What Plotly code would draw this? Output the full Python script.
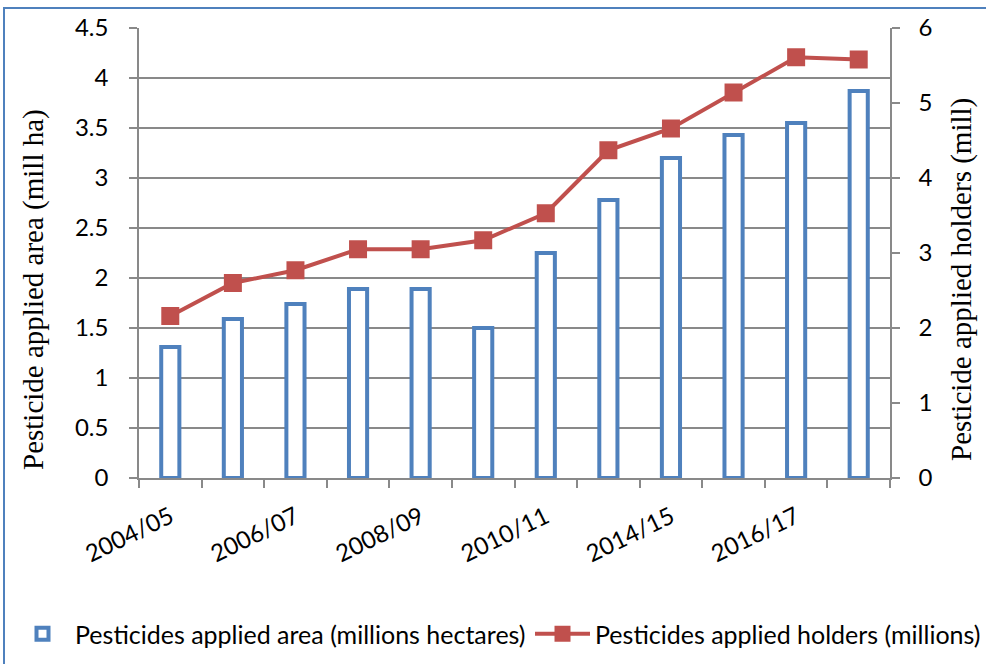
import plotly.graph_objects as go

categories = ["2004/05", "2005/06", "2006/07", "2007/08", "2008/09", "2009/10",
              "2010/11", "2013/14", "2014/15", "2015/16", "2016/17", "2017/18"]
tick_labels = ["2004/05", "", "2006/07", "", "2008/09", "",
               "2010/11", "", "2014/15", "", "2016/17", ""]
area_mill_ha = [1.31, 1.59, 1.74, 1.89, 1.89, 1.50, 2.25, 2.78, 3.20, 3.43, 3.55, 3.87]
holders_mill = [2.16, 2.60, 2.77, 3.05, 3.05, 3.17, 3.53, 4.37, 4.66, 5.14, 5.61, 5.58]

BLUE = "#4F81BD"
RED = "#C0504D"
GRID = "#898989"
SANS = "Lato, 'Open Sans', sans-serif"
SERIF = "'Liberation Serif', 'Times New Roman', serif"

# plot area in pixels: x 139..890, y 28..478
L, R, T, B = 139, 890, 28, 478
def px(x):
    return (x - L) / (R - L)
def py(y):
    return (B - y) / (B - T)

fig = go.Figure()
fig.add_trace(go.Bar(
    x=categories, y=area_mill_ha, name="Pesticides applied area (millions hectares)",
    width=0.29, marker=dict(color="white", line=dict(color=BLUE, width=4)),
    yaxis="y", legend="legend"))
fig.add_trace(go.Scatter(
    x=categories, y=holders_mill, name="Pesticides applied holders (millions)",
    mode="lines+markers", line=dict(color=RED, width=4),
    marker=dict(symbol="square", size=18, color=RED), yaxis="y2", legend="legend2"))

legend_common = dict(orientation="h", yanchor="middle", y=py(634), xanchor="left",
                     font=dict(family=SANS, size=25, color="black"),
                     itemwidth=55, tracegroupgap=0, bgcolor="rgba(0,0,0,0)")

fig.update_layout(
    width=986, height=664,
    margin=dict(l=L, r=986 - R, t=T, b=664 - B, autoexpand=False),
    paper_bgcolor="white", plot_bgcolor="white",
    font=dict(family=SANS, size=20, color="black"),
    showlegend=True,
    legend=dict(x=px(10), **legend_common),
    legend2=dict(x=px(530), **legend_common),
    xaxis=dict(type="category", tickvals=categories, ticktext=tick_labels,
               tickangle=-26, tickson="boundaries", ticks="outside", ticklen=8,
               tickcolor=GRID, tickwidth=1.5, showline=True, linecolor=GRID, linewidth=1.5,
               ticklabelstandoff=14,
               showgrid=False, tickfont=dict(family=SANS, size=24), range=[-0.5, 11.5]),
    yaxis=dict(range=[0, 4.5], dtick=0.5, tickformat="~g", showgrid=True, gridcolor=GRID,
               gridwidth=1.5, showline=True, linecolor=GRID, linewidth=1.5,
               ticks="outside", ticklen=8, tickcolor=GRID, tickwidth=1.5,
               ticklabelstandoff=16, zeroline=False,
               tickfont=dict(family=SANS, size=24)),
    yaxis2=dict(range=[0, 6], dtick=1, overlaying="y", side="right", showgrid=False,
                showline=True, linecolor=GRID, linewidth=1.5,
                ticks="outside", ticklen=8, tickcolor=GRID, tickwidth=1.5,
                ticklabelstandoff=14, zeroline=False,
                tickfont=dict(family=SANS, size=24)),
    annotations=[
        dict(text="Pesticide applied area (mill ha)", textangle=-90, showarrow=False,
             xref="paper", yref="paper", x=px(33), y=py(290), xanchor="center",
             yanchor="middle", font=dict(family=SERIF, size=29, color="black")),
        dict(text="Pesticide applied holders (mill)", textangle=-90, showarrow=False,
             xref="paper", yref="paper", x=px(961), y=py(280), xanchor="center",
             yanchor="middle", font=dict(family=SERIF, size=29, color="black")),
    ],
    shapes=[dict(type="rect", xref="paper", yref="paper",
                 x0=px(4), x1=px(995), y0=py(675), y1=py(8),
                 line=dict(color=BLUE, width=2), fillcolor="rgba(0,0,0,0)", layer="below")],
)

fig.write_html("out.html")
